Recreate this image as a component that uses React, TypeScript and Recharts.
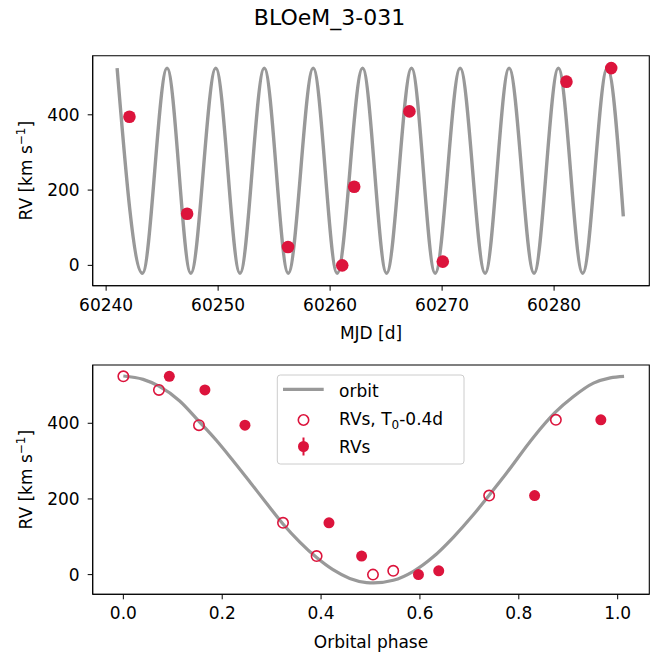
import { ComposedChart, Line, ReferenceArea, Scatter, XAxis, YAxis } from "recharts"

const FONT = "DejaVu Sans, sans-serif"
const RED = "#dc143c"
const GREY = "#999999"

// top panel: measured RVs per epoch
const epochMjd = [60242.08, 60247.23, 60256.24, 60261.08, 60262.15, 60267.08, 60270.06, 60281.1, 60285.1]
const epochRv = [395, 137, 49, 0, 209, 409, 10, 488, 524]

// model orbit, read at its maxima / minima
const orbitMjd = [
  60240.98, 60243.24, 60245.44, 60247.56, 60249.79, 60251.95, 60254.12, 60256.26, 60258.49, 60260.63, 60262.9,
  60265.04, 60267.27, 60269.38, 60271.61, 60273.84, 60275.98, 60278.21, 60280.38, 60282.55, 60284.75, 60286.18,
]
const orbitRv = [
  524, -21, 524, -21, 524, -21, 524, -21, 524, -21, 524, -21, 524, -21, 524, -21, 524, -21, 524, -21, 524, 130,
]

const mjdTicks = [60240, 60250, 60260, 60270, 60280]
const rvTicks = [0, 200, 400]

// bottom panel: phase-folded orbit
const curvePhase = [
  0, 0.04, 0.072, 0.114, 0.153, 0.188, 0.222, 0.256, 0.29, 0.323, 0.357, 0.391, 0.424, 0.458, 0.492, 0.506, 0.546,
  0.586, 0.627, 0.667, 0.708, 0.74, 0.775, 0.829, 0.873, 0.91, 0.951, 0.985, 1.013,
]
const curveRv = [
  525, 516, 498, 459, 405, 355, 301, 245, 188, 134, 86, 45, 13, -10, -21, -22, -15, 8, 47, 98, 158, 210, 268, 362,
  428, 470, 506, 520, 524,
]

const shiftedPhase = [0.0, 0.072, 0.153, 0.323, 0.391, 0.505, 0.546, 0.74, 0.875]
const shiftedRv = [524, 488, 395, 137, 49, 0, 10, 209, 409]

const foldedPhase = [0.093, 0.165, 0.246, 0.416, 0.482, 0.597, 0.638, 0.832, 0.966]
const foldedRv = [524, 488, 395, 137, 49, 0, 10, 209, 409]

const phaseTicks = [0, 0.2, 0.4, 0.6, 0.8, 1.0]

const toPoints = (xs: number[], ys: number[]) => xs.map((x, i) => ({ x, y: ys[i] }))

const epochData = toPoints(epochMjd, epochRv)
const orbitData = toPoints(orbitMjd, orbitRv)
const curveData = toPoints(curvePhase, curveRv)
const shiftedData = toPoints(shiftedPhase, shiftedRv)
const foldedData = toPoints(foldedPhase, foldedRv)

const tickStyle = { fill: "#000", fontSize: 17, fontFamily: FONT }

const bigDot = (p: any) => <circle cx={p.cx} cy={p.cy} r={6.3} fill={RED} />
const dot = (p: any) => <circle cx={p.cx} cy={p.cy} r={5.5} fill={RED} />
const ring = (p: any) => <circle cx={p.cx} cy={p.cy} r={5.2} fill="none" stroke={RED} strokeWidth={1.6} />

function RvLabel({ x, y }: { x: number; y: number }) {
  return (
    <text x={x} y={y} transform={`rotate(-90 ${x} ${y})`} textAnchor="middle" fontSize={17}>
      RV [km s
      <tspan dy={-7} fontSize={12}>
        −1
      </tspan>
      <tspan dy={7}>]</tspan>
    </text>
  )
}

function Overlay() {
  return (
    <svg
      width={659}
      height={657}
      style={{ position: "absolute", left: 0, top: 0, pointerEvents: "none" }}
      fontFamily={FONT}
      fill="#000"
    >
      <text x={329.5} y={25} textAnchor="middle" fontSize={22}>
        BLOeM_3-031
      </text>
      <RvLabel x={32.3} y={170.7} />
      <text x={371} y={339} textAnchor="middle" fontSize={17}>
        MJD [d]
      </text>
      <RvLabel x={32.3} y={479.7} />
      <text x={371} y={647.7} textAnchor="middle" fontSize={17}>
        Orbital phase
      </text>

      {/* legend */}
      <rect x={277.3} y={375} width={186.7} height={89} rx={3} fill="#fff" fillOpacity={0.8} stroke="#cccccc" />
      <line x1={283} x2={323.7} y1={389.3} y2={389.3} stroke={GREY} strokeWidth={3.3} />
      <circle cx={303.5} cy={420} r={5.2} fill="none" stroke={RED} strokeWidth={1.6} />
      <line x1={303.5} x2={303.5} y1={437.5} y2={455.5} stroke={RED} strokeWidth={2} />
      <circle cx={303.5} cy={446.5} r={5.5} fill={RED} />
      <text x={339} y={397.3} fontSize={17}>
        orbit
      </text>
      <text x={339} y={425} fontSize={17}>
        RVs, T
        <tspan dy={4} fontSize={12}>
          0
        </tspan>
        <tspan dy={-4}>-0.4d</tspan>
      </text>
      <text x={339} y={452.7} fontSize={17}>
        RVs
      </text>
    </svg>
  )
}

export default function App() {
  return (
    <div style={{ position: "absolute", left: 0, top: 0, width: 659, height: 657, background: "#fff", fontFamily: FONT }}>
      <div style={{ position: "absolute", left: 0, top: 0 }}>
        <ComposedChart width={659} height={350} margin={{ top: 55.7, right: 9.7, bottom: 14.3, left: 0 }}>
          <XAxis
            type="number"
            dataKey="x"
            domain={[60238.8, 60288.5]}
            ticks={mjdTicks}
            allowDataOverflow
            interval={0}
            height={50}
            tickSize={5}
            tickMargin={8}
            stroke="#000"
            tick={tickStyle}
          />
          <YAxis
            type="number"
            dataKey="y"
            domain={[-54, 557]}
            ticks={rvTicks}
            allowDataOverflow
            interval={0}
            width={92.7}
            tickSize={5}
            tickMargin={8}
            stroke="#000"
            tick={tickStyle}
          />
          <ReferenceArea
            x1={60238.8}
            x2={60288.5}
            y1={-54}
            y2={557}
            fill="none"
            stroke="#000"
            strokeWidth={1.1}
            ifOverflow="visible"
          />
          <Line
            data={orbitData}
            dataKey="y"
            type="monotone"
            stroke={GREY}
            strokeWidth={3.4}
            dot={false}
            isAnimationActive={false}
          />
          <Scatter data={epochData} dataKey="y" shape={bigDot} isAnimationActive={false} />
        </ComposedChart>
      </div>

      <div style={{ position: "absolute", left: 0, top: 340 }}>
        <ComposedChart width={659} height={317} margin={{ top: 25, right: 9.7, bottom: 12.7, left: 0 }}>
          <XAxis
            type="number"
            dataKey="x"
            domain={[-0.062, 1.064]}
            ticks={phaseTicks}
            allowDataOverflow
            interval={0}
            height={50}
            tickSize={5}
            tickMargin={8}
            stroke="#000"
            tick={tickStyle}
            tickFormatter={(v: number) => v.toFixed(1)}
          />
          <YAxis
            type="number"
            dataKey="y"
            domain={[-52, 554]}
            ticks={rvTicks}
            allowDataOverflow
            interval={0}
            width={92.7}
            tickSize={5}
            tickMargin={8}
            stroke="#000"
            tick={tickStyle}
          />
          <ReferenceArea
            x1={-0.062}
            x2={1.064}
            y1={-52}
            y2={554}
            fill="none"
            stroke="#000"
            strokeWidth={1.1}
            ifOverflow="visible"
          />
          <Line
            data={curveData}
            dataKey="y"
            type="monotone"
            stroke={GREY}
            strokeWidth={3.2}
            dot={false}
            isAnimationActive={false}
          />
          <Scatter data={shiftedData} dataKey="y" shape={ring} isAnimationActive={false} />
          <Scatter data={foldedData} dataKey="y" shape={dot} isAnimationActive={false} />
        </ComposedChart>
      </div>

      <Overlay />
    </div>
  )
}
